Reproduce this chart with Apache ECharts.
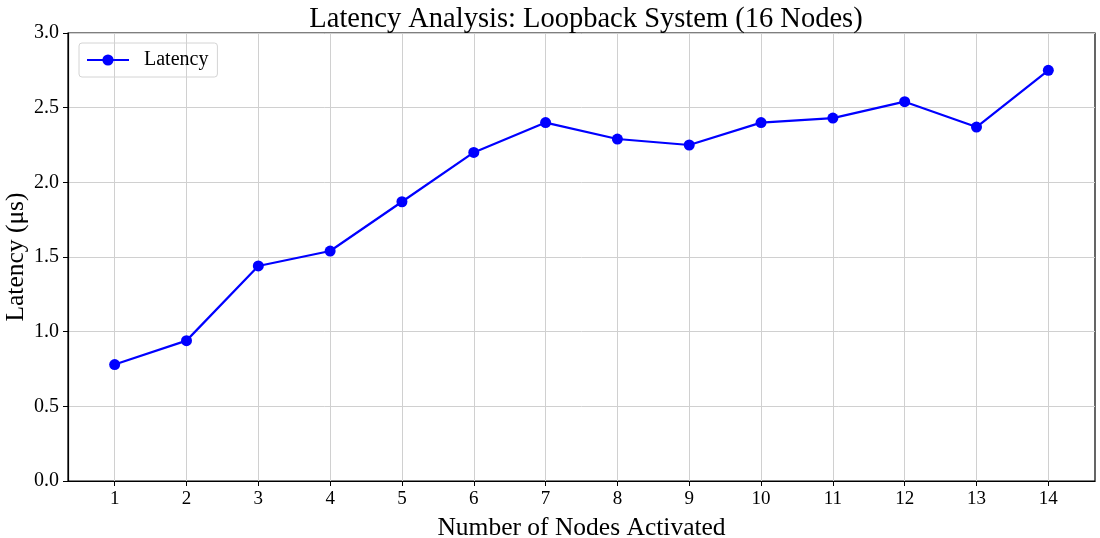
<!DOCTYPE html>
<html>
<head>
<meta charset="utf-8">
<script src="https://cdn.jsdelivr.net/npm/echarts@6/dist/echarts.min.js"></script>
<style>
    html, body { margin: 0; padding: 0; background: #fff; }
    #main { width: 1100px; height: 538px; }
</style>
</head>
<body>
<div id="main"></div>
<script>
    // nodes activated (x) and measured latency in microseconds
    var nodes = [1, 2, 3, 4, 5, 6, 7, 8, 9, 10, 11, 12, 13, 14];
    var latency = [0.78, 0.94, 1.44, 1.54, 1.87, 2.20, 2.40, 2.29, 2.25, 2.40, 2.43, 2.54, 2.37, 2.75];

    var serif = '"Liberation Serif", "Times New Roman", serif';

    var myChart = echarts.init(document.getElementById('main'));

    var option = {
        animation: false,
        backgroundColor: '#fff',
        title: {
            text: 'Latency Analysis: Loopback System (16 Nodes)',
            left: 581,
            textAlign: 'center',
            top: 0,
            textStyle: { fontFamily: serif, fontSize: 28.5, fontWeight: 'normal', color: '#000' }
        },
        legend: {
            left: 79,
            top: 43,
            padding: [7, 9, 7, 7],
            borderColor: '#d4d4d4',
            borderWidth: 1,
            borderRadius: 3,
            itemWidth: 42,
            itemHeight: 14,
            itemGap: 10,
            textStyle: { fontFamily: serif, fontSize: 20, color: '#000', padding: [0, 0, 0, 10] },
            data: ['Latency']
        },
        grid: {
            left: 68,
            right: 5,
            top: 33,
            bottom: 57,
            show: true,
            borderColor: '#000',
            borderWidth: 1.2,
            containLabel: false,
            outerBoundsMode: 'none'
        },
        xAxis: {
            type: 'value',
            min: 0.35,
            max: 14.65,
            name: 'Number of Nodes Activated',
            nameLocation: 'middle',
            nameGap: 34,
            nameTextStyle: { fontFamily: serif, fontSize: 25.5, color: '#000' },
            axisLine: { show: true, onZero: false, lineStyle: { color: '#000', width: 1.2 } },
            axisTick: { show: true, inside: false, length: 5, customValues: nodes, lineStyle: { color: '#000' } },
            axisLabel: {
                customValues: nodes,
                fontFamily: serif, fontSize: 19, color: '#000', margin: 9
            },
            splitLine: { show: true, lineStyle: { color: '#d0d0d0', width: 1 } }
        },
        yAxis: {
            type: 'value',
            min: 0,
            max: 3,
            interval: 0.5,
            name: 'Latency (μs)',
            nameLocation: 'middle',
            nameGap: 39,
            nameMoveOverlap: false,
            nameTextStyle: { fontFamily: serif, fontSize: 25.5, color: '#000' },
            axisLine: { show: true, lineStyle: { color: '#000', width: 1.2 } },
            axisTick: { show: true, inside: false, length: 5, lineStyle: { color: '#000' } },
            axisLabel: {
                fontFamily: serif, fontSize: 20, color: '#000', margin: 9,
                formatter: function (v) { return v.toFixed(1); }
            },
            splitLine: { show: true, lineStyle: { color: '#d0d0d0', width: 1 } }
        },
        series: [
            {
                name: 'Latency',
                type: 'line',
                data: nodes.map(function (n, i) { return [n, latency[i]]; }),
                symbol: 'circle',
                symbolSize: 11,
                showAllSymbol: true,
                lineStyle: { color: '#0000ff', width: 2.2 },
                itemStyle: { color: '#0000ff' }
            }
        ]
    };

    myChart.setOption(option);
</script>
</body>
</html>
